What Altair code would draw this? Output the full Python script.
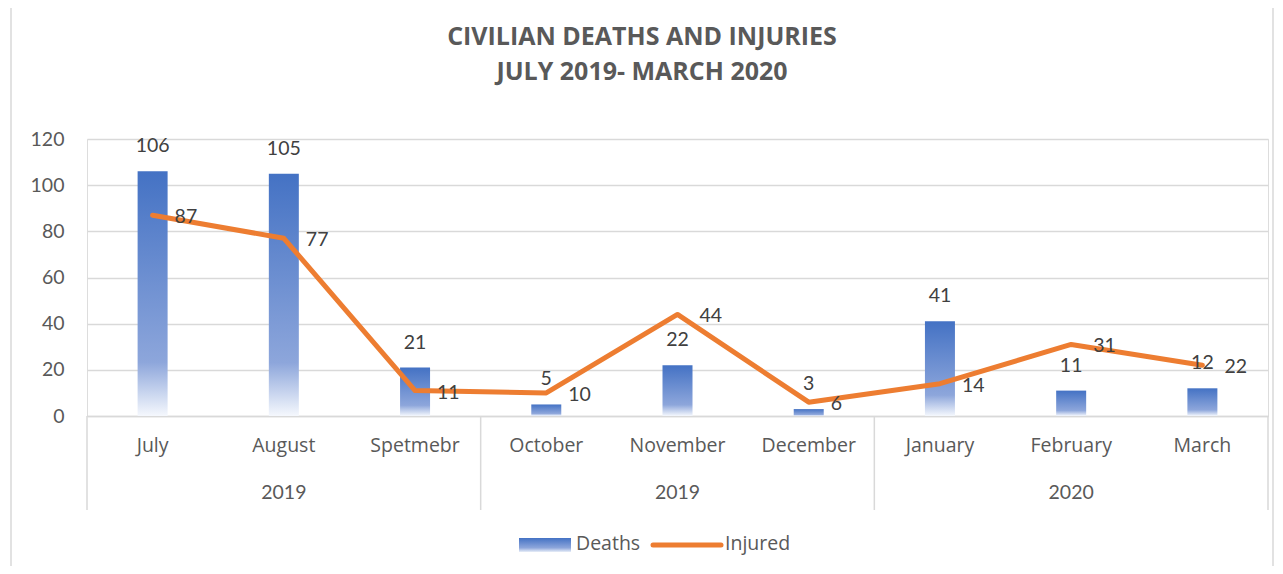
import altair as alt
import pandas as pd

months = ["July", "August", "Spetmebr", "October", "November", "December", "January", "February", "March"]
deaths = [106, 105, 21, 5, 22, 3, 41, 11, 12]
injured = [87, 77, 11, 10, 44, 6, 14, 31, 22]
year_labels = ["2019", "2019", "2020"]
year_mid_month = ["August", "November", "February"]
group_starts = ["July", "October", "January"]
group_end = ["March"]
y_ticks = [0, 20, 40, 60, 80, 100, 120]
title_lines = ["CIVILIAN DEATHS AND INJURIES", "JULY 2019- MARCH 2020"]

FONT = "Lato"
FONT2 = "Open Sans"
GREY = "#595959"
GRID = "#d9d9d9"
BLUE = "#4472C4"
ORANGE = "#ED7D31"

df = pd.DataFrame({"month": months, "Deaths": deaths, "Injured": injured})

W, H = 1181, 277

xenc = alt.X("month:N", sort=months, scale=alt.Scale(domain=months, paddingInner=0, paddingOuter=0),
             axis=alt.Axis(title=None, labels=False, ticks=False, domainColor=GRID, domainWidth=1.5))
yscale = alt.Scale(domain=[0, 120])
yenc_axis = alt.Axis(title=None, values=y_ticks, labelFontSize=19.5, labelColor=GREY, labelFont=FONT,
                     labelPadding=23, ticks=False, domain=False, gridColor=GRID, gridWidth=1.5)

grad = alt.Gradient(gradient="linear", x1=0, x2=0, y1=0, y2=1,
                    stops=[alt.GradientStop(color=BLUE, offset=0),
                           alt.GradientStop(color="#8DA6DB", offset=0.78),
                           alt.GradientStop(color="#F5F8FD", offset=1)])

base = alt.Chart(df)

bars = base.mark_bar(size=30, color=grad).encode(
    x=xenc, y=alt.Y("Deaths:Q", scale=yscale, axis=yenc_axis))

bar_labels = base.mark_text(baseline="bottom", dy=-15, fontSize=19.5, color="#404040", font=FONT).encode(
    x=alt.X("month:N", sort=months), y=alt.Y("Deaths:Q", scale=yscale), text="Deaths:Q")

line = base.mark_line(color=ORANGE, strokeWidth=5, strokeJoin="round", strokeCap="round").encode(
    x=alt.X("month:N", sort=months), y=alt.Y("Injured:Q", scale=yscale))

line_labels = base.mark_text(align="left", baseline="middle", dx=22, dy=2, fontSize=19.5, color="#404040", font=FONT).encode(
    x=alt.X("month:N", sort=months), y=alt.Y("Injured:Q", scale=yscale), text="Injured:Q")

month_text = base.mark_text(baseline="middle", fontSize=19.5, color=GREY, font=FONT2).encode(
    x=alt.X("month:N", sort=months), y=alt.value(H + 30), text="month:N")

years_df = pd.DataFrame({"month": year_mid_month, "year": year_labels})
year_text = alt.Chart(years_df).mark_text(baseline="middle", fontSize=19.5, color=GREY, font=FONT).encode(
    x=alt.X("month:N", sort=months), y=alt.value(H + 77), text="year:N")

sep_start = alt.Chart(pd.DataFrame({"month": group_starts})).mark_rule(color=GRID, strokeWidth=1.5).encode(
    x=alt.X("month:N", sort=months, bandPosition=0), y=alt.value(H), y2=alt.value(H + 94))
sep_end = alt.Chart(pd.DataFrame({"month": group_end})).mark_rule(color=GRID, strokeWidth=1.5).encode(
    x=alt.X("month:N", sort=months, bandPosition=1), y=alt.value(H), y2=alt.value(H + 94))

# title
title_df = pd.DataFrame({"line": title_lines, "ypix": [-102, -67]})
title = alt.Chart(title_df).mark_text(baseline="middle", fontSize=25, fontWeight="bold",
                                      color=GREY, font=FONT2).encode(
    x=alt.value(555), y=alt.Y("ypix:Q", scale=None), text="line:N")

# legend
leg_df = pd.DataFrame({"label": ["Deaths"]})
leg_rect = alt.Chart(leg_df).mark_rect(color=alt.Gradient(gradient="linear", x1=0, x2=0, y1=0, y2=1,
    stops=[alt.GradientStop(color=BLUE, offset=0), alt.GradientStop(color="#8DA6DB", offset=0.7),
           alt.GradientStop(color="#E8EEF8", offset=1)])).encode(
    x=alt.value(432), x2=alt.value(484), y=alt.value(399), y2=alt.value(413))
leg_t1 = alt.Chart(leg_df).mark_text(align="left", baseline="middle", fontSize=19.5, color=GREY, font=FONT2).encode(
    x=alt.value(489), y=alt.value(405), text="label:N")
leg_df2 = pd.DataFrame({"label": ["Injured"]})
leg_line = alt.Chart(leg_df2).mark_rule(color=ORANGE, strokeWidth=5, strokeCap="round").encode(
    x=alt.value(566), x2=alt.value(634), y=alt.value(406))
leg_t2 = alt.Chart(leg_df2).mark_text(align="left", baseline="middle", fontSize=19.5, color=GREY, font=FONT2).encode(
    x=alt.value(638), y=alt.value(405), text="label:N")

border = alt.Chart(leg_df).mark_rect(fill=None, stroke=GRID, strokeWidth=1.5).encode(
    x=alt.value(-76), x2=alt.value(1186), y=alt.value(-135), y2=alt.value(460))

chart = alt.layer(border, bars, sep_start, sep_end, line, bar_labels, line_labels, month_text, year_text,
                  title, leg_rect, leg_t1, leg_line, leg_t2).properties(
    width=W, height=H,
    autosize=alt.AutoSizeParams(type="none"),
    padding={"left": 79, "top": 131, "right": 7, "bottom": 150},
).configure_view(stroke=None).configure(background="white")

chart.save("out.html", embed_options={"renderer": "svg", "actions": False})
